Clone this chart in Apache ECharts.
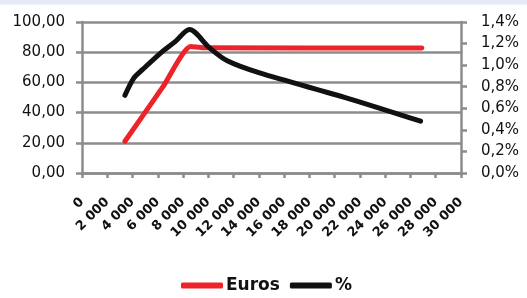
<!DOCTYPE html>
<html>
<head>
<meta charset="utf-8">
<script src="https://cdn.jsdelivr.net/npm/echarts@6/dist/echarts.min.js"></script>
<style>
html,body{margin:0;padding:0;background:#fff;}
#c{width:527px;height:298px;}
</style>
</head>
<body>
<div id="c"></div>
<script>
// Data
var eurosX = [3400, 6400, 8600, 9600, 26900];
var eurosY = [21, 57, 83.8, 83, 82.8];
var pctX = [3400, 4100, 4800, 6400, 7400, 8500, 10100, 11500, 14000, 21100, 26800];
var pctY = [0.72, 0.88, 0.96, 1.13, 1.22, 1.33, 1.16, 1.04, 0.93, 0.69, 0.48];
var seriesNames = ['Euros', '%'];

function pairs(xs, ys) { return xs.map(function (x, i) { return [x, ys[i]]; }); }
function fmtThousands(v) {
  var s = String(Math.round(v));
  return s.replace(/\B(?=(\d{3})+(?!\d))/g, ' ');
}
function fmtDec(v, d) { return v.toFixed(d).replace('.', ','); }

var gray = '#8c8c8c';
var chart = echarts.init(document.getElementById('c'), null, {renderer: 'canvas'});
chart.setOption({
  animation: false,
  backgroundColor: '#ffffff',
  graphic: [{type: 'rect', shape: {x: 0, y: 0, width: 527, height: 4.5}, style: {fill: '#e7eaf4'}, silent: true}],
  textStyle: {fontFamily: 'DejaVu Sans'},
  grid: {left: 82, right: 66, top: 22, bottom: 125, containLabel: false},
  legend: {
    top: 277, left: 181, padding: 0, itemWidth: 42, itemHeight: 6, itemGap: 10,
    icon: 'roundRect',
    textStyle: {fontFamily: 'DejaVu Sans', fontWeight: 'bold', fontSize: 17, color: '#111', padding: [0, 0, 0, -2]},
    data: seriesNames
  },
  xAxis: {
    type: 'value', min: 0, max: 30000, interval: 2000,
    axisLine: {show: true, lineStyle: {color: gray, width: 2.5}},
    axisTick: {show: true, length: 5, inside: false, lineStyle: {color: gray, width: 2.5}},
    splitLine: {show: false},
    axisLabel: {rotate: 45, margin: 27, fontSize: 13, fontWeight: 'bold', color: '#111', fontFamily: 'DejaVu Sans',
      formatter: function (v) { return fmtThousands(v); }}
  },
  yAxis: [{
    type: 'value', min: 0, max: 100, interval: 20, position: 'left',
    axisLine: {show: true, lineStyle: {color: gray, width: 2.5}},
    axisTick: {show: true, length: 6, lineStyle: {color: gray, width: 2.5}},
    splitLine: {show: true, lineStyle: {color: gray, width: 2.5}},
    axisLabel: {fontSize: 15, color: '#111', margin: 17, fontFamily: 'DejaVu Sans',
      formatter: function (v) { return fmtDec(v, 2); }}
  }, {
    type: 'value', min: 0, max: 1.4, interval: 0.2, position: 'right',
    axisLine: {show: true, lineStyle: {color: gray, width: 2.5}},
    axisTick: {show: true, length: 6, lineStyle: {color: gray, width: 2.5}},
    splitLine: {show: false},
    axisLabel: {fontSize: 15, color: '#111', margin: 20, fontFamily: 'DejaVu Sans',
      formatter: function (v) { return fmtDec(v, 1) + '%'; }}
  }],
  series: [{
    name: seriesNames[0], type: 'line', yAxisIndex: 0, data: pairs(eurosX, eurosY),
    smooth: 0.2, showSymbol: false, symbol: 'none',
    lineStyle: {color: '#ee2229', width: 5, cap: 'round', join: 'round'},
    itemStyle: {color: '#ee2229'}
  }, {
    name: seriesNames[1], type: 'line', yAxisIndex: 1, data: pairs(pctX, pctY),
    smooth: 0.3, showSymbol: false, symbol: 'none',
    lineStyle: {color: '#111111', width: 5, cap: 'round', join: 'round'},
    itemStyle: {color: '#111111'}
  }]
});
</script>
</body>
</html>
